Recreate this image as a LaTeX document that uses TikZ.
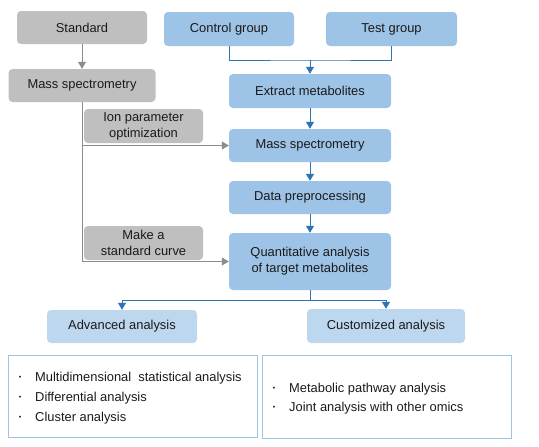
\documentclass[tikz,border=0pt]{standalone}
\usepackage{fontspec}
\setmainfont{Liberation Sans}
\usetikzlibrary{arrows.meta}
\definecolor{boxblue}{HTML}{9DC3E6}
\definecolor{paleblue}{HTML}{BDD7EE}
\definecolor{boxgray}{HTML}{BFBFBF}
\definecolor{linegray}{HTML}{8C8C8C}
\definecolor{lineblue}{HTML}{2E75B6}
\definecolor{textdark}{HTML}{1A1A1A}
\tikzset{
  box/.style={rounded corners=4pt,inner sep=0pt,align=center,text=textdark,font=\fontsize{12.9}{16}\selectfont},
  bluebox/.style={box,fill=boxblue},
  palebox/.style={box,fill=paleblue},
  graybox/.style={box,fill=boxgray},
  listbox/.style={draw=boxblue,line width=0.9pt,inner sep=0pt},
  item/.style={anchor=west,inner sep=0pt,text=textdark,font=\fontsize{12.9}{15}\selectfont},
  dot/.style={inner sep=0pt,text=textdark,font=\fontsize{7}{7}\selectfont},
  bluearrow/.style={draw=lineblue,line width=1pt,-{Triangle[width=8pt,length=7pt]}},
  blueline/.style={draw=lineblue,line width=1pt},
  grayarrow/.style={draw=linegray,line width=1pt,-{Triangle[width=8pt,length=7pt]}}
}
\begin{document}
\begin{tikzpicture}[x=1pt,y=-1pt]
\useasboundingbox (0,0) rectangle (539,447);

% left column
\node[graybox,minimum width=130,minimum height=33] (standard) at (82,27.5) {Standard};
\node[graybox,minimum width=147,minimum height=33] (graymass) at (82,85.5) {Mass spectrometry};
\node[graybox,minimum width=119,minimum height=34] (ionopt) at (143.5,126) {Ion parameter\\optimization};
\node[graybox,minimum width=119,minimum height=34] (stdcurve) at (143.5,243) {Make a\\standard curve};

% main column
\node[bluebox,minimum width=130,minimum height=34] (control) at (229,29) {Control group};
\node[bluebox,minimum width=131,minimum height=34] (test) at (391.5,29) {Test group};
\node[bluebox,minimum width=162,minimum height=34] (extract) at (310,91) {Extract metabolites};
\node[bluebox,minimum width=162,minimum height=33] (bluemass) at (310,145.5) {Mass spectrometry};
\node[bluebox,minimum width=162,minimum height=33] (preproc) at (310,197.5) {Data preprocessing};
\node[bluebox,minimum width=162,minimum height=57] (quant) at (310,261.5) {Quantitative analysis\\of target metabolites};

% analyses
\node[palebox,minimum width=150,minimum height=33] (advanced) at (122,326.5) {Advanced analysis};
\node[palebox,minimum width=158,minimum height=34] (custom) at (386,326) {Customized analysis};
\node[listbox,minimum width=249,minimum height=82] (leftlist) at (132.5,396) {};
\node[listbox,minimum width=249,minimum height=83] (rightlist) at (386.5,396.5) {};

\node[dot] (dota) at (20,378) {•};
\node[item] (itema) at (35,378) {Multidimensional\ \ statistical analysis};
\node[dot] (dotb) at (20,398) {•};
\node[item] (itemb) at (35,398) {Differential analysis};
\node[dot] (dotc) at (20,418) {•};
\node[item] (itemc) at (35,418) {Cluster analysis};
\node[dot] (dotd) at (274,389) {•};
\node[item] (itemd) at (289,389) {Metabolic pathway analysis};
\node[dot] (dote) at (274,408) {•};
\node[item] (iteme) at (289,408) {Joint analysis with other omics};

% connectors
\coordinate (join) at (310,60);
\coordinate (split) at (310,300);
\draw[blueline] (control.south) |- (join) -| (test.south);
\draw[bluearrow] (join) -- (extract);
\draw[bluearrow] (extract) -- (bluemass);
\draw[bluearrow] (bluemass) -- (preproc);
\draw[bluearrow] (preproc) -- (quant);
\draw[bluearrow] (quant.south) -- (split) -| (advanced.north);
\draw[bluearrow] (split) -| (custom.north);

\draw[grayarrow] (standard) -- (graymass);
\draw[grayarrow] (graymass.south) |- (bluemass.west);
\draw[grayarrow] (graymass.south) |- (quant.west);
\end{tikzpicture}
\end{document}
